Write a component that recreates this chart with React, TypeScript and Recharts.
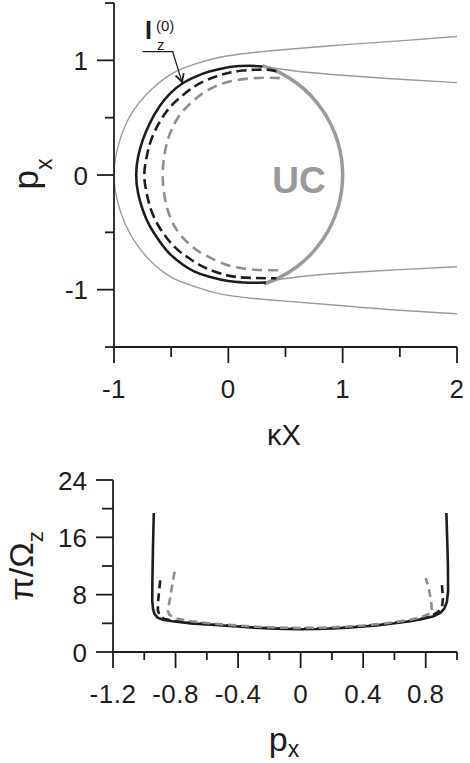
import { LineChart, Line, XAxis, YAxis } from 'recharts'

const FONT = '"Liberation Sans", Arial, sans-serif'
const INK = '#1d1d1d'
const GRAY = '#9a9a9a'
const GRAY_DASH = '#8e8e8e'

// ---- top panel: kappa*X vs p_x ----
// thin gray separatrix (upper branch -> vertex -> lower branch)
const outerX = [2, 1.5, 1.0, 0.5, 0.0, -0.3, -0.5, -0.7, -0.85, -0.95, -1.0, -0.95, -0.85, -0.7, -0.5, -0.3, 0.0, 0.5, 1.0, 1.5, 2]
const outerP = [1.208, 1.17, 1.135, 1.095, 1.04, 0.965, 0.88, 0.72, 0.53, 0.3, 0.0, -0.3, -0.53, -0.73, -0.89, -0.97, -1.05, -1.1, -1.14, -1.18, -1.21]

// thin gray branches leaving the circle
const upperTailX = [0.3, 0.6, 1.0, 1.5, 2]
const upperTailP = [0.946, 0.905, 0.87, 0.835, 0.806]
const lowerTailX = [0.31, 0.6, 1.0, 1.5, 2]
const lowerTailP = [-0.936, -0.89, -0.855, -0.825, -0.8]

// unit circle arc (UC)
const ucX = [0.3, 0.45, 0.6, 0.72, 0.82, 0.9, 0.96, 0.99, 1.0, 0.99, 0.96, 0.9, 0.82, 0.72, 0.6, 0.45, 0.31]
const ucP = [0.954, 0.893, 0.8, 0.694, 0.572, 0.436, 0.28, 0.141, 0, -0.141, -0.28, -0.436, -0.572, -0.694, -0.8, -0.893, -0.951]

// I_z^(0) orbits
const solidX = [0.3, 0.2, 0.1, 0.0, -0.166, -0.285, -0.399, -0.51, -0.603, -0.685, -0.748, -0.79, -0.806, -0.79, -0.75, -0.69, -0.6, -0.51, -0.4, -0.3, -0.166, 0.0, 0.125, 0.2, 0.33]
const solidP = [0.946, 0.952, 0.95, 0.94, 0.902, 0.858, 0.8, 0.71, 0.597, 0.455, 0.306, 0.155, 0.0, -0.155, -0.3, -0.44, -0.58, -0.69, -0.78, -0.84, -0.888, -0.925, -0.937, -0.94, -0.937]
const dashX = [0.42, 0.358, 0.25, 0.125, 0.0, -0.107, -0.23, -0.34, -0.44, -0.53, -0.61, -0.675, -0.715, -0.735, -0.715, -0.675, -0.61, -0.53, -0.44, -0.34, -0.2, -0.02, 0.15, 0.33, 0.42]
const dashP = [0.905, 0.917, 0.918, 0.911, 0.89, 0.859, 0.81, 0.742, 0.66, 0.568, 0.445, 0.306, 0.155, 0.0, -0.155, -0.306, -0.445, -0.56, -0.655, -0.728, -0.81, -0.873, -0.895, -0.9, -0.9]
const grayX = [0.45, 0.3, 0.15, 0.01, -0.11, -0.224, -0.325, -0.413, -0.48, -0.53, -0.562, -0.574, -0.562, -0.53, -0.48, -0.413, -0.31, -0.2, -0.04, 0.125, 0.3, 0.47]
const grayP = [0.845, 0.848, 0.838, 0.815, 0.775, 0.713, 0.63, 0.539, 0.43, 0.306, 0.155, 0.0, -0.155, -0.306, -0.43, -0.53, -0.63, -0.7, -0.775, -0.815, -0.83, -0.83]

const topXTicks = [-1, -0.5, 0, 0.5, 1, 1.5, 2]
const topXMajor = [-1, 0, 1, 2]
const topYTicks = [-1.5, -1, -0.5, 0, 0.5, 1, 1.5]
const topYMajor = [-1, 0, 1]

// ---- bottom panel: p_x vs pi/Omega_z ----
const perSolidX = [-0.939, -0.944, -0.948, -0.949, -0.944, -0.934, -0.915, -0.88, -0.82, -0.7, -0.6, -0.5, -0.4, -0.3, -0.2, -0.1, 0, 0.1, 0.2, 0.3, 0.4, 0.5, 0.6, 0.7, 0.78, 0.85, 0.895, 0.92, 0.935, 0.943, 0.942, 0.937, 0.932]
const perSolidY = [19.4, 15, 10, 7.2, 6.0, 5.3, 4.8, 4.5, 4.3, 4.0, 3.85, 3.7, 3.55, 3.4, 3.3, 3.22, 3.18, 3.2, 3.28, 3.4, 3.55, 3.75, 4.0, 4.3, 4.6, 5.0, 5.5, 6.1, 7.0, 8.5, 12, 16, 19.4]
const perDashX = [-0.898, -0.905, -0.912, -0.913, -0.9, -0.87, -0.8, -0.7, -0.6, -0.5, -0.4, -0.3, -0.2, -0.1, 0, 0.1, 0.2, 0.3, 0.4, 0.5, 0.6, 0.7, 0.78, 0.84, 0.88, 0.905, 0.91, 0.905, 0.9]
const perDashY = [10.0, 8.5, 7.0, 5.8, 5.0, 4.6, 4.3, 4.05, 3.9, 3.75, 3.6, 3.45, 3.35, 3.28, 3.25, 3.28, 3.35, 3.45, 3.6, 3.8, 4.05, 4.35, 4.7, 5.1, 5.6, 6.3, 7.5, 9, 10.0]
const perGrayX = [-0.806, -0.82, -0.835, -0.85, -0.84, -0.8, -0.7, -0.6, -0.5, -0.4, -0.3, -0.2, -0.1, 0, 0.1, 0.2, 0.3, 0.4, 0.5, 0.6, 0.7, 0.77, 0.82, 0.84, 0.835, 0.82, 0.8]
const perGrayY = [11.2, 9.5, 7.5, 5.8, 5.2, 4.7, 4.3, 4.05, 3.85, 3.7, 3.55, 3.45, 3.38, 3.35, 3.38, 3.45, 3.55, 3.7, 3.9, 4.15, 4.5, 4.85, 5.3, 5.6, 7.0, 8.8, 10.3]

const botXTicks = [-1.2, -1.0, -0.8, -0.6, -0.4, -0.2, 0, 0.2, 0.4, 0.6, 0.8, 1.0]
const botXMajor = [-1.2, -0.8, -0.4, 0, 0.4, 0.8]
const botYTicks = [0, 4, 8, 12, 16, 20, 24]
const botYMajor = [0, 8, 16, 24]

const pts = (xs: number[], ys: number[]) => xs.map((x, i) => ({ x, y: ys[i] }))
const isIn = (v: number, list: number[]) => list.some((m) => Math.abs(m - v) < 1e-9)

const makeYTick = (majors: number[], majLen: number, minLen: number) => (props: any) => {
  const { x, y, payload } = props
  const major = isIn(payload.value, majors)
  return (
    <g>
      <line x1={x} x2={x - (major ? majLen : minLen)} y1={y} y2={y} stroke={INK} strokeWidth={1.8} />
      {major && (
        <text x={x - 26} y={y + 9.5} textAnchor="end" fontSize={26} fontFamily={FONT} fill={INK}>
          {String(payload.value)}
        </text>
      )}
    </g>
  )
}

const makeXTick = (majors: number[], majLen: number, minLen: number) => (props: any) => {
  const { x, y, payload } = props
  const major = isIn(payload.value, majors)
  return (
    <g>
      <line x1={x} x2={x} y1={y} y2={y + (major ? majLen : minLen)} stroke={INK} strokeWidth={1.8} />
      {major && (
        <text x={x} y={y + 51} textAnchor="middle" fontSize={26} letterSpacing={0.5} fontFamily={FONT} fill={INK}>
          {String(payload.value)}
        </text>
      )}
    </g>
  )
}

const axisLine = { stroke: INK, strokeWidth: 1.8 }

export default function App() {
  return (
    <div style={{ position: 'absolute', left: 0, top: 0, width: 470, height: 763, background: '#fff' }}>
      <div style={{ position: 'absolute', left: 0, top: 0 }}>
        <LineChart width={470} height={470} margin={{ top: 3, right: 13, bottom: 0, left: 0 }}>
          <XAxis
            dataKey="x"
            type="number"
            domain={[-1, 2]}
            ticks={topXTicks}
            interval={0}
            allowDataOverflow
            height={123}
            tickSize={0}
            tickMargin={0}
            tickLine={false}
            axisLine={axisLine}
            tick={makeXTick(topXMajor, 16, 10)}
          />
          <YAxis
            dataKey="y"
            type="number"
            domain={[-1.5, 1.5]}
            ticks={topYTicks}
            interval={0}
            allowDataOverflow
            width={114}
            tickSize={0}
            tickMargin={0}
            tickLine={false}
            axisLine={axisLine}
            tick={makeYTick(topYMajor, 17, 9)}
          />
          <Line data={pts(outerX, outerP)} dataKey="y" type="natural" stroke={GRAY} strokeWidth={1.4} dot={false} activeDot={false} isAnimationActive={false} />
          <Line data={pts(upperTailX, upperTailP)} dataKey="y" type="natural" stroke={GRAY} strokeWidth={1.4} dot={false} activeDot={false} isAnimationActive={false} />
          <Line data={pts(lowerTailX, lowerTailP)} dataKey="y" type="natural" stroke={GRAY} strokeWidth={1.4} dot={false} activeDot={false} isAnimationActive={false} />
          <Line data={pts(ucX, ucP)} dataKey="y" type="natural" stroke={GRAY} strokeWidth={3.5} dot={false} activeDot={false} isAnimationActive={false} />
          <Line data={pts(grayX, grayP)} dataKey="y" type="natural" stroke={GRAY_DASH} strokeWidth={2.6} strokeDasharray="10 6" dot={false} activeDot={false} isAnimationActive={false} />
          <Line data={pts(dashX, dashP)} dataKey="y" type="natural" stroke={INK} strokeWidth={2.6} strokeDasharray="10 5" dot={false} activeDot={false} isAnimationActive={false} />
          <Line data={pts(solidX, solidP)} dataKey="y" type="natural" stroke={INK} strokeWidth={2.6} dot={false} activeDot={false} isAnimationActive={false} />
        </LineChart>
      </div>

      <div style={{ position: 'absolute', left: 0, top: 440 }}>
        <LineChart width={470} height={323} margin={{ top: 40, right: 13, bottom: 0, left: 0 }}>
          <XAxis
            dataKey="x"
            type="number"
            domain={[-1.2, 1.0]}
            ticks={botXTicks}
            interval={0}
            allowDataOverflow
            height={111}
            tickSize={0}
            tickMargin={0}
            tickLine={false}
            axisLine={axisLine}
            tick={makeXTick(botXMajor, 16, 8)}
          />
          <YAxis
            dataKey="y"
            type="number"
            domain={[0, 24]}
            ticks={botYTicks}
            interval={0}
            allowDataOverflow
            width={113}
            tickSize={0}
            tickMargin={0}
            tickLine={false}
            axisLine={axisLine}
            tick={makeYTick(botYMajor, 17, 11)}
          />
          <Line data={pts(perSolidX, perSolidY)} dataKey="y" type="linear" stroke={INK} strokeWidth={2.6} dot={false} activeDot={false} isAnimationActive={false} />
          <Line data={pts(perDashX, perDashY)} dataKey="y" type="linear" stroke={INK} strokeWidth={2.6} strokeDasharray="8 5" dot={false} activeDot={false} isAnimationActive={false} />
          <Line data={pts(perGrayX, perGrayY)} dataKey="y" type="linear" stroke={GRAY_DASH} strokeWidth={2.6} strokeDasharray="8 5" dot={false} activeDot={false} isAnimationActive={false} />
        </LineChart>
      </div>

      {/* axis titles and annotations */}
      <svg width={470} height={763} style={{ position: 'absolute', left: 0, top: 0, pointerEvents: 'none' }}>
        <g fontFamily={FONT} fill={INK}>
          <text transform="rotate(-90 38 174)" x={38} y={174} textAnchor="middle" fontSize={35}>
            p<tspan fontSize={23} dy={14}>x</tspan>
          </text>
          <text x={284} y={445} textAnchor="middle" fontSize={29}>κX</text>
          <text transform="rotate(-90 33 566)" x={33} y={566} textAnchor="middle" fontSize={34}>
            π/Ω<tspan fontSize={22} dy={10}>z</tspan>
          </text>
          <text x={284} y={751} textAnchor="middle" fontSize={34}>
            p<tspan fontSize={23} dy={6}>x</tspan>
          </text>
          <text x={145} y={38.5} fontSize={25} fontWeight="bold">I</text>
          <text x={156} y={30.5} fontSize={15}>(0)</text>
          <text x={157} y={49.5} fontSize={15}>z</text>
        </g>
        <text x={299} y={193} textAnchor="middle" fontFamily={FONT} fontSize={37} fontWeight="bold" fill={GRAY}>UC</text>
        <polyline points="142.7,51.7 172.7,51.7 182,82" fill="none" stroke={INK} strokeWidth={1.2} />
        <polyline points="175.6,75.6 182,82 183.7,73.2" fill="none" stroke={INK} strokeWidth={1.8} />
      </svg>
    </div>
  )
}
